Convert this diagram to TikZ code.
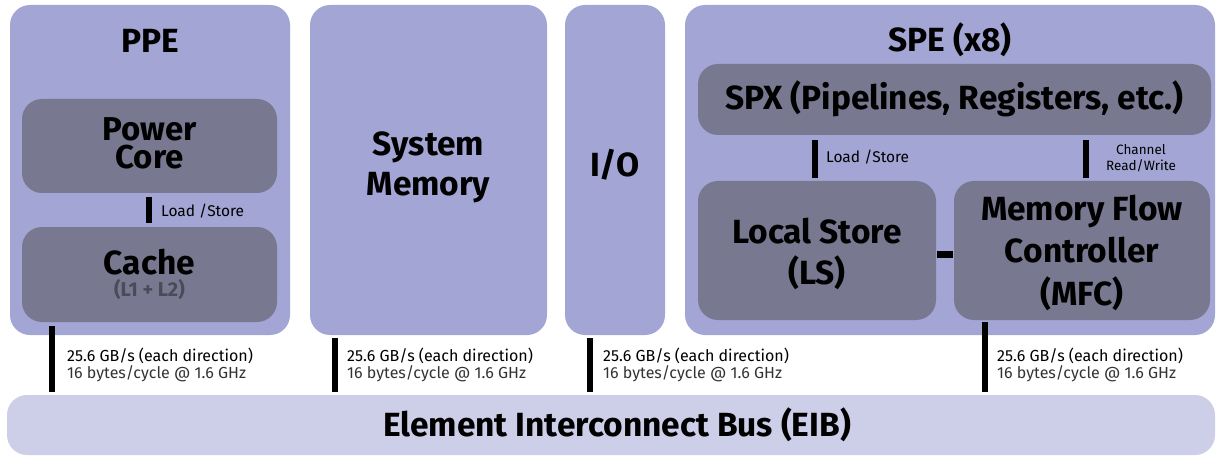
\documentclass[tikz,border=0pt]{standalone}
\usepackage{fontspec}
\setmainfont{Fira Sans}
\usetikzlibrary{calc}
\definecolor{outerc}{HTML}{A3A5D4}
\definecolor{innerc}{HTML}{787890}
\definecolor{busc}{HTML}{CDCEE8}
\definecolor{subc}{HTML}{4A4A58}
\definecolor{ratec}{HTML}{333333}
\begin{document}
\begin{tikzpicture}[x=1pt,y=-1pt,
  outerbox/.style={fill=outerc, rounded corners=20pt, inner sep=0pt, outer sep=0pt, anchor=north west},
  innerbox/.style={fill=innerc, rounded corners=20pt, inner sep=0pt, outer sep=0pt, anchor=north west},
  bigtext/.style={font=\bfseries\fontsize{33.5}{41}\selectfont, inner sep=0pt, anchor=base, align=center},
  bar/.style={line width=6pt},
  ratetext/.style={font=\fontsize{16}{15}\selectfont, inner sep=0pt, anchor=base west, align=left},
  smalltext/.style={font=\fontsize{15.5}{16}\selectfont, inner sep=0pt, anchor=base west, align=left},
]
\useasboundingbox (0,0) rectangle (1217,457);
% outer blocks
\node[outerbox, minimum width=280pt, minimum height=330pt] (ppe) at (10,5) {};
\node[outerbox, minimum width=237pt, minimum height=330pt] (mem) at (310,5) {};
\node[outerbox, minimum width=100pt, minimum height=330pt] (io) at (565,5) {};
\node[outerbox, minimum width=530pt, minimum height=330pt] (spe) at (685,5) {};
\node[outerbox, fill=busc, minimum width=1208pt, minimum height=60pt] (bus) at (7,395) {};
% inner blocks
\node[innerbox, minimum width=255pt, minimum height=94pt] (core) at (22,99) {};
\node[innerbox, minimum width=255pt, minimum height=95pt] (cache) at (22,227) {};
\node[innerbox, minimum width=513pt, minimum height=71pt] (spx) at (698,64) {};
\node[innerbox, minimum width=238pt, minimum height=139pt] (ls) at (698,181) {};
\node[innerbox, minimum width=256pt, minimum height=139pt] (mfc) at (954,181) {};
% big texts
\node[bigtext] (ppet) at (150,53) {PPE};
\node[bigtext, font=\bfseries\fontsize{33}{41}\selectfont] (coret1) at (149.5,141) {Power};
\node[bigtext, font=\bfseries\fontsize{33}{41}\selectfont] (coret2) at (149.5,169) {Core};
\node[bigtext] (cachet) at (149.5,274) {Cache};
\node[bigtext, font=\bfseries\fontsize{20}{20}\selectfont, text=subc] (caches) at (149.5,296) {(L1 + L2)};
\node[bigtext, font=\bfseries\fontsize{33.5}{40}\selectfont] (memt) at (428.5,196) {System\\Memory};
\node[bigtext] (iot) at (615,177) {I/O};
\node[bigtext] (spet) at (950,52) {SPE (x8)};
\node[bigtext] (spxt) at (954.5,110) {SPX (Pipelines, Registers, etc.)};
\node[bigtext, font=\bfseries\fontsize{33.5}{41}\selectfont] (lst) at (817,284) {Local Store\\(LS)};
\node[bigtext, font=\bfseries\fontsize{33.5}{42.5}\selectfont] (mfct) at (1082,305) {Memory Flow\\Controller\\(MFC)};
\node[bigtext] (bust) at (617,436) {Element Interconnect Bus (EIB)};
% bar x positions
\coordinate (xppe) at (52,0);
\coordinate (xmem) at (335,0);
\coordinate (xio) at (590,0);
\coordinate (xspe) at (985,0);
\coordinate (xcore) at (149,0);
\coordinate (xls) at (815,0);
\coordinate (xch) at (1086,0);
% connectors
\draw[bar, shorten <=4pt, shorten >=3pt] (cache.south -| xppe) -- (bus.north -| xppe);
\draw[bar, shorten <=3pt, shorten >=3pt] (mem.south -| xmem) -- (bus.north -| xmem);
\draw[bar, shorten <=3pt, shorten >=3pt] (io.south -| xio) -- (bus.north -| xio);
\draw[bar, shorten <=2pt, shorten >=3pt] (mfc.south -| xspe) -- (bus.north -| xspe);
\draw[bar, shorten <=4pt, shorten >=4pt] (core.south -| xcore) -- (cache.north -| xcore);
\draw[bar, shorten <=5pt, shorten >=3pt] (spx.south -| xls) -- (ls.north -| xls);
\draw[bar, shorten <=5pt, shorten >=3pt] (spx.south -| xch) -- (mfc.north -| xch);
\draw[line width=7pt, shorten <=1pt, shorten >=1pt] ($(ls.east)+(0,4)$) -- ($(mfc.west)+(0,4)$);
% small labels
\node[smalltext] (ls1) at (161,216) {Load /Store};
\node[smalltext] (ls2) at (826,163) {Load /Store};
\node[smalltext, anchor=base, align=center, font=\fontsize{13.5}{16}\selectfont] (chl) at (1141,171) {Channel\\Read/Write};
\node[ratetext] (r1) at (67,378) {25.6 GB/s (each direction)\\\textcolor{ratec}{16 bytes/cycle @ 1.6 GHz}};
\node[ratetext] (r2) at (347,378) {25.6 GB/s (each direction)\\\textcolor{ratec}{16 bytes/cycle @ 1.6 GHz}};
\node[ratetext] (r3) at (603,378) {25.6 GB/s (each direction)\\\textcolor{ratec}{16 bytes/cycle @ 1.6 GHz}};
\node[ratetext] (r4) at (997,378) {25.6 GB/s (each direction)\\\textcolor{ratec}{16 bytes/cycle @ 1.6 GHz}};
\end{tikzpicture}
\end{document}
